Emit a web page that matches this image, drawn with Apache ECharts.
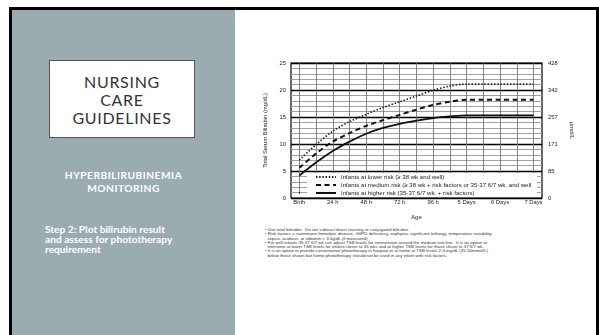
<!DOCTYPE html>
<html>
<head>
<meta charset="utf-8">
<script src="https://cdn.jsdelivr.net/npm/echarts@6/dist/echarts.min.js"></script>
<style>
  html, body { margin: 0; padding: 0; width: 599px; height: 335px; overflow: hidden; background: #fff; }
  .slide { position: absolute; left: 9px; top: 7px; width: 584px; height: 340px; border: 3px solid #000; border-bottom: none; background: #fff; }
  .side { position: absolute; left: 12px; top: 10px; width: 223px; height: 330px; background: #9bacb1; }
  .titlebox { position: absolute; left: 49px; top: 60px; width: 144px; border: 1.5px solid #555; background: #fff;
    font-family: Lato, "Open Sans", sans-serif; font-size: 16px; line-height: 18px; color: #333; text-align: center; letter-spacing: 0.7px;
    padding-top: 12px; box-sizing: content-box; height: 64px; }
  .sub { position: absolute; left: 12px; width: 223px; top: 169px; text-align: center; color: #fff;
    font-family: Lato, sans-serif; font-weight: bold; font-size: 10.2px; line-height: 13px; letter-spacing: 0.5px; }
  .step { position: absolute; left: 45px; top: 225px; color: #fff; font-family: Lato, sans-serif; font-weight: bold; font-size: 10.2px; line-height: 9.8px; }
  #chatMain { position: absolute; left: 240px; top: 40px; width: 350px; height: 185px; }
  .notes { position: absolute; left: 265px; top: 228px; font-family: "Liberation Sans", Arial, sans-serif; font-size: 4.4px; line-height: 4.3px; color: #333; white-space: pre; }
</style>
</head>
<body>
<div class="slide"></div>
<div class="side"></div>
<div class="titlebox">NURSING<br>CARE<br>GUIDELINES</div>
<div class="sub">HYPERBILIRUBINEMIA<br>MONITORING</div>
<div class="step">Step 2: Plot bilirubin result<br>and assess for phototherapy<br>requirement</div>
<div id="chatMain"></div>
<div class="notes">• Use total bilirubin.  Do not subtract direct reacting or conjugated bilirubin.
• Risk factors = isoimmune hemolytic disease, G6PD deficiency, asphyxia, significant lethargy, temperature instability,
  sepsis, acidosis, or albumin &lt; 3.0g/dL (if measured)
• For well infants 35-37 6/7 wk can adjust TSB levels for intervention around the medium risk line.  It is an option to
  intervene at lower TSB levels for infants closer to 35 wks and at higher TSB levels for those closer to 37 6/7 wk.
• It is an option to provide conventional phototherapy in hospital or at home at TSB levels 2-3 mg/dL (35-50mmol/L)
  below those shown but home phototherapy should not be used in any infant with risk factors.</div>
<script>
// 数据
const hours = [0, 12, 24, 36, 48, 60, 72, 84, 96, 108, 120, 132, 144, 156, 168]
const lowerRisk = [6.5, 9.4, 12.0, 13.8, 15.2, 16.5, 17.6, 18.7, 19.8, 20.6, 21, 21, 21, 21, 21]
const mediumRisk = [5.0, 7.7, 10.0, 11.6, 13.0, 14.1, 15.1, 16.1, 17.0, 17.6, 18, 18, 18, 18, 18]
const higherRisk = [3.5, 6.0, 8.2, 10.0, 11.5, 12.6, 13.4, 14.0, 14.5, 14.8, 15, 15, 15, 15, 15]
const xTickHours = [0, 24, 48, 72, 96, 120, 144, 168]
const xTickLabels = ['Birth', '24 h', '48 h', '72 h', '96 h', '5 Days', '6 Days', '7 Days']
const mgTicks = [0, 5, 10, 15, 20, 25]
const umolLabels = ['0', '85', '171', '257', '342', '428']
const seriesNames = [
  'Infants at lower risk (\u2265 38 wk and well)',
  'Infants at medium risk (\u2265 38 wk + risk factors or 35-37 6/7 wk. and well',
  'Infants at higher risk (35-37 6/7 wk. + risk factors)'
]

const font = '"Liberation Sans", Arial, sans-serif'
const myechart = echarts.init(document.getElementById('chatMain'))

function pairs(vals) {
  return hours.map((h, i) => [h, vals[i]])
}

var option = {
  animation: false,
  textStyle: { fontFamily: font },
  legend: {
    orient: 'vertical',
    left: 67,
    top: 133,
    itemWidth: 20,
    itemHeight: 6,
    itemGap: 2,
    padding: [1, 6, 1, 8],
    backgroundColor: '#fff',
    itemStyle: { opacity: 0 },
    textStyle: { fontSize: 6.1, color: '#222', fontFamily: font },
    data: seriesNames
  },
  grid: [
    // 外框 + 横线
    { left: 51, top: 23, width: 251, height: 135, show: true, borderColor: '#000', borderWidth: 1.2, backgroundColor: 'transparent' },
    // 数据区 (Birth ~ 7 Days)
    { left: 59.3, top: 23, width: 234.2, height: 135 }
  ],
  xAxis: [
    { gridIndex: 0, type: 'value', min: -6, max: 174, show: false },
    {
      gridIndex: 1, type: 'value', min: 0, max: 168, interval: 12,
      name: 'Age', nameLocation: 'middle', nameGap: 20,
      nameTextStyle: { fontSize: 6, color: '#222' },
      axisLine: { show: false },
      axisTick: { show: true, inside: true, length: 2, lineStyle: { color: '#333' } },
      axisLabel: {
        fontSize: 5.8, color: '#222', margin: 5,
        formatter: function (v) {
          const i = xTickHours.indexOf(v)
          return i >= 0 ? xTickLabels[i] : ''
        }
      },
      splitLine: { show: true, lineStyle: { color: '#666', width: 0.8 } }
    }
  ],
  yAxis: [
    {
      gridIndex: 0, type: 'value', min: 0, max: 25, interval: 5, position: 'left',
      name: 'Total Serum Bilirubin (mg/dL)', nameLocation: 'middle', nameGap: 15,
      nameTextStyle: { fontSize: 5.8, color: '#222' },
      axisLine: { show: false }, axisTick: { show: false },
      axisLabel: { fontSize: 5.8, color: '#222', margin: 5 },
      splitLine: { show: true, lineStyle: { color: '#000', width: 1.3 } },
      minorTick: { show: false, splitNumber: 5 },
      minorSplitLine: { show: true, lineStyle: { color: '#a0a0a0', width: 1.1 } }
    },
    {
      gridIndex: 0, type: 'value', min: 0, max: 25, interval: 5, position: 'right',
      name: '\u00b5mol/L', nameLocation: 'middle', nameGap: 22, nameRotate: -90,
      nameTextStyle: { fontSize: 5.8, color: '#222' },
      axisLine: { show: false }, axisTick: { show: false },
      axisLabel: {
        fontSize: 5.8, color: '#222', margin: 6,
        formatter: function (v) { return umolLabels[mgTicks.indexOf(v)] }
      },
      splitLine: { show: false }
    },
    { gridIndex: 1, type: 'value', min: 0, max: 25, show: false }
  ],
  series: [
    {
      name: seriesNames[0], type: 'line', xAxisIndex: 1, yAxisIndex: 2,
      data: pairs(lowerRisk), smooth: 0.3, symbol: 'none', z: 3,
      lineStyle: { color: '#111', width: 1.6, type: [1.4, 1.8] },
      itemStyle: { color: '#111' }
    },
    {
      name: seriesNames[1], type: 'line', xAxisIndex: 1, yAxisIndex: 2,
      data: pairs(mediumRisk), smooth: 0.3, symbol: 'none', z: 3,
      lineStyle: { color: '#111', width: 2, type: [5, 3.5] },
      itemStyle: { color: '#111' }
    },
    {
      name: seriesNames[2], type: 'line', xAxisIndex: 1, yAxisIndex: 2,
      data: pairs(higherRisk), smooth: 0.3, symbol: 'none', z: 3,
      lineStyle: { color: '#111', width: 1.8 },
      itemStyle: { color: '#111' }
    }
  ]
}
myechart.setOption(option)
</script>
</body>
</html>
